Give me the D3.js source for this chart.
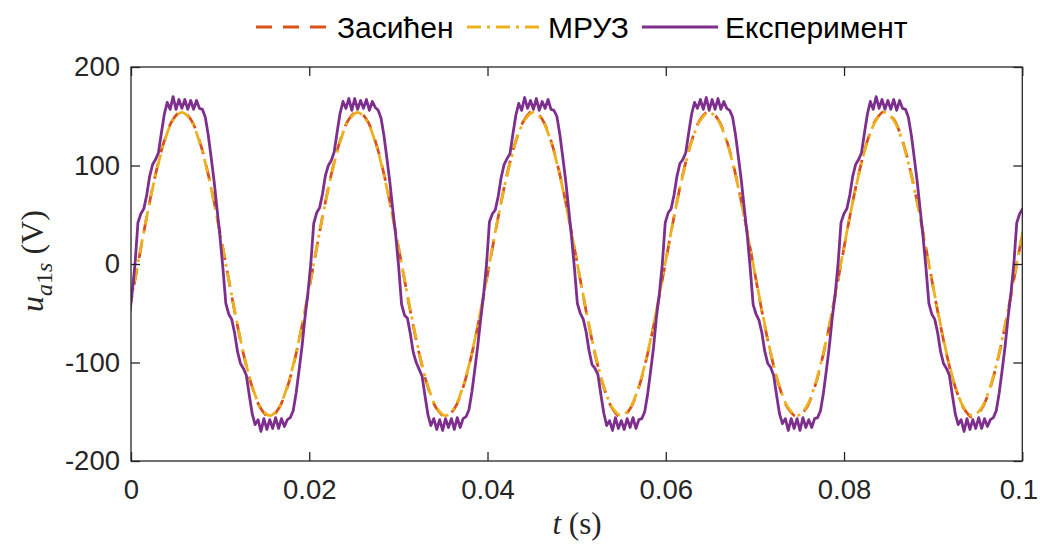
<!DOCTYPE html>
<html><head><meta charset="utf-8">
<script src="https://cdn.jsdelivr.net/npm/d3@7"></script>
<style>body{margin:0;background:#fff} svg{display:block}</style>
</head><body>
<svg id="chart" width="1040" height="545"></svg>
<script>
// ---- data ----
const xTicks = [0, 0.02, 0.04, 0.06, 0.08, 0.1];
const xTickLabels = ["0", "0.02", "0.04", "0.06", "0.08", "0.1"];
const yTicks = [-200, -100, 0, 100, 200];
const yTickLabels = ["-200", "-100", "0", "100", "200"];
const seriesNames = ["Засићен", "МРУЗ", "Експеримент"];

// simulated series: sampled every simStep seconds starting at simStart
const simStart = -0.000206, simStep = 0.000986;
const zasValues = [
  -48, 0, 48, 91, 125, 147, 155, 147, 125, 91, 48, 0, -48, -91, -125, -147, -156, -147, -125, -91,
  -48, 0, 48, 91, 125, 147, 155, 147, 125, 91, 48, 0, -48, -91, -125, -147, -155, -147, -125, -91,
  -48, 0, 48, 91, 125, 147, 156, 147, 125, 91, 48, 0, -48, -91, -125, -147, -156, -147, -125, -91,
  -48, 0, 48, 91, 125, 147, 155, 147, 125, 91, 48, 0, -48, -91, -125, -147, -155, -147, -125, -91,
  -48, 0, 48, 91, 125, 147, 155, 147, 125, 91, 48, 0, -48, -91, -125, -147, -156, -147, -125, -91,
  -48, 0, 48
];
const mruzValues = [
  -47, 1, 48, 90, 124, 146, 154, 146, 124, 90, 47, 0, -47, -90, -124, -146, -154, -146, -124, -90,
  -47, 1, 48, 90, 124, 146, 154, 146, 124, 90, 47, 0, -47, -90, -124, -146, -154, -146, -124, -90,
  -47, 1, 48, 90, 124, 146, 154, 146, 124, 90, 47, 0, -47, -90, -124, -146, -154, -146, -124, -90,
  -47, 1, 48, 90, 124, 146, 154, 146, 124, 90, 47, 0, -47, -90, -124, -146, -154, -146, -124, -90,
  -47, 1, 48, 90, 124, 146, 154, 146, 124, 90, 47, 0, -47, -90, -124, -146, -154, -146, -124, -90,
  -47, 1, 48
];

// measured series: sampled every expStep seconds starting at expStart
const expStart = -0.00020733, expStep = 0.00032867;
const expValues = [
  -55, -30,
  0, 42, 51, 56, 70, 89, 101, 106, 113, 133, 152, 164, 157, 170, 157, 167, 158, 167, 157, 166, 157, 166, 158, 157, 149, 131, 108, 84, 56, 28,
  -4, -40, -51, -56, -70, -89, -101, -106, -113, -133, -152, -163, -158, -170, -157, -168, -158, -167, -156, -167, -157, -165, -158, -156, -149, -131, -108, -84, -55, -30,
  0, 41, 52, 57, 71, 90, 100, 105, 114, 134, 153, 165, 158, 168, 156, 168, 157, 166, 158, 167, 156, 165, 159, 156, 148, 130, 107, 83, 55, 29,
  -3, -41, -52, -55, -71, -90, -100, -107, -114, -134, -153, -164, -157, -168, -158, -169, -157, -166, -157, -168, -156, -166, -157, -155, -148, -130, -107, -83, -56, -31,
  0, 43, 51, 55, 69, 88, 101, 107, 112, 132, 151, 163, 156, 169, 158, 166, 157, 168, 156, 165, 158, 167, 157, 156, 150, 132, 109, 85, 57, 28,
  -4, -40, -50, -56, -69, -88, -102, -106, -112, -132, -151, -164, -159, -169, -156, -167, -159, -168, -157, -166, -156, -167, -158, -157, -150, -132, -109, -85, -54, -30,
  0, 42, 52, 56, 70, 89, 102, 106, 113, 133, 152, 164, 158, 167, 157, 169, 156, 167, 157, 168, 157, 165, 158, 156, 149, 131, 108, 84, 56, 29,
  -4, -41, -51, -57, -70, -89, -101, -105, -113, -133, -152, -162, -157, -169, -157, -167, -157, -169, -156, -166, -158, -166, -157, -156, -149, -131, -108, -84, -55, -31,
  0, 42, 51, 56, 70, 89, 101, 106, 113, 133, 152, 165, 157, 170, 158, 167, 157, 166, 157, 167, 156, 166, 158, 157, 149, 131, 108, 84, 56, 28,
  -4, -40, -51, -56, -70, -89, -101, -106, -113, -133, -152, -163, -158, -170, -157, -168, -158, -167, -156, -167, -157, -165, -158, -156, -149, -131, -108, -84, -55, -30,
  0, 42, 51, 56
];

// ---- layout ----
const L = 131, R = 1022.3, T = 67, B = 461;
const axisColor = "#262626";
const colors = ["#D95319", "#EDB120", "#7E2F8E"];
const dashes = ["16,11", "14,6,3,6", null];
const lineW = 2.8;

const svg = d3.select("#chart");
const x = d3.scaleLinear().domain([0, 0.1]).range([L, R]);
const y = d3.scaleLinear().domain([-200, 200]).range([B, T]);

svg.append("defs").append("clipPath").attr("id", "clip")
  .append("rect").attr("x", L).attr("y", T).attr("width", R - L).attr("height", B - T);

const toPts = (start, step, vals) => vals.map((v, i) => ({t: start + i * step, v}));
const series = [
  {pts: toPts(simStart, simStep, zasValues), curve: d3.curveCatmullRom},
  {pts: toPts(simStart, simStep, mruzValues), curve: d3.curveCatmullRom},
  {pts: toPts(expStart, expStep, expValues), curve: d3.curveLinear}
];

const gLines = svg.append("g").attr("clip-path", "url(#clip)");
series.forEach((s, i) => {
  const line = d3.line().x(d => x(d.t)).y(d => y(d.v)).curve(s.curve);
  gLines.append("path").datum(s.pts)
    .attr("d", line)
    .attr("fill", "none")
    .attr("stroke", colors[i])
    .attr("stroke-width", lineW)
    .attr("stroke-dasharray", dashes[i])
    .attr("stroke-linejoin", "round");
});

// ---- axes ----
const fontTick = "'Liberation Sans', Arial, Helvetica, sans-serif";
const xAxis = svg.append("g").attr("transform", `translate(0,${B})`)
  .call(d3.axisBottom(x).tickValues(xTicks).tickFormat((d, i) => xTickLabels[i]).tickSizeInner(-9).tickSizeOuter(0).tickPadding(18));
const yAxis = svg.append("g").attr("transform", `translate(${L},0)`)
  .call(d3.axisLeft(y).tickValues(yTicks).tickFormat((d, i) => yTickLabels[i]).tickSizeInner(-9).tickSizeOuter(0).tickPadding(11));
const xTop = svg.append("g").attr("transform", `translate(0,${T})`)
  .call(d3.axisTop(x).tickValues(xTicks).tickFormat("").tickSizeInner(-9).tickSizeOuter(0));
const yRight = svg.append("g").attr("transform", `translate(${R},0)`)
  .call(d3.axisRight(y).tickValues(yTicks).tickFormat("").tickSizeInner(-9).tickSizeOuter(0));

[xAxis, yAxis, xTop, yRight].forEach(g => {
  g.select(".domain").remove();
  g.selectAll(".tick line").attr("stroke", axisColor).attr("stroke-width", 1.3);
  g.selectAll(".tick text").attr("fill", axisColor).style("font-family", fontTick).style("font-size", "27.5px");
});
// keep the last x label inside the window
xAxis.selectAll(".tick text").filter((d, i) => i === xTicks.length - 1).attr("dx", -4);

svg.append("rect").attr("x", L).attr("y", T).attr("width", R - L).attr("height", B - T)
  .attr("fill", "none").attr("stroke", axisColor).attr("stroke-width", 1.3);

// ---- axis labels ----
const serif = "'Liberation Serif', 'Times New Roman', Times, serif";
const xl = svg.append("text").attr("x", 577).attr("y", 534).attr("text-anchor", "middle")
  .style("font-family", serif).style("font-size", "31px").attr("fill", axisColor);
xl.append("tspan").style("font-style", "italic").text("t");
xl.append("tspan").text(" (s)");

const yl = svg.append("text").attr("transform", "translate(43,261) rotate(-90)").attr("text-anchor", "middle")
  .style("font-family", serif).style("font-size", "32px").attr("fill", axisColor);
yl.append("tspan").style("font-style", "italic").text("u");
yl.append("tspan").attr("dy", 9).style("font-size", "24px").style("font-style", "italic").text("a");
yl.append("tspan").style("font-size", "24px").text("1");
yl.append("tspan").style("font-size", "24px").style("font-style", "italic").text("s");
yl.append("tspan").attr("dy", -9).text(" (V)");

// ---- legend ----
const legendItems = [
  {x1: 256, x2: 330, tx: 337},
  {x1: 467, x2: 542, tx: 548},
  {x1: 642, x2: 718, tx: 725}
];
const legY = 27;
legendItems.forEach((it, i) => {
  svg.append("line").attr("x1", it.x1).attr("x2", it.x2).attr("y1", legY).attr("y2", legY)
    .attr("stroke", colors[i]).attr("stroke-width", lineW).attr("stroke-dasharray", dashes[i]);
  svg.append("text").attr("x", it.tx).attr("y", legY).attr("dy", "0.36em")
    .style("font-family", fontTick).style("font-size", "30px").attr("fill", "#000")
    .text(seriesNames[i]);
});
</script>
</body></html>
